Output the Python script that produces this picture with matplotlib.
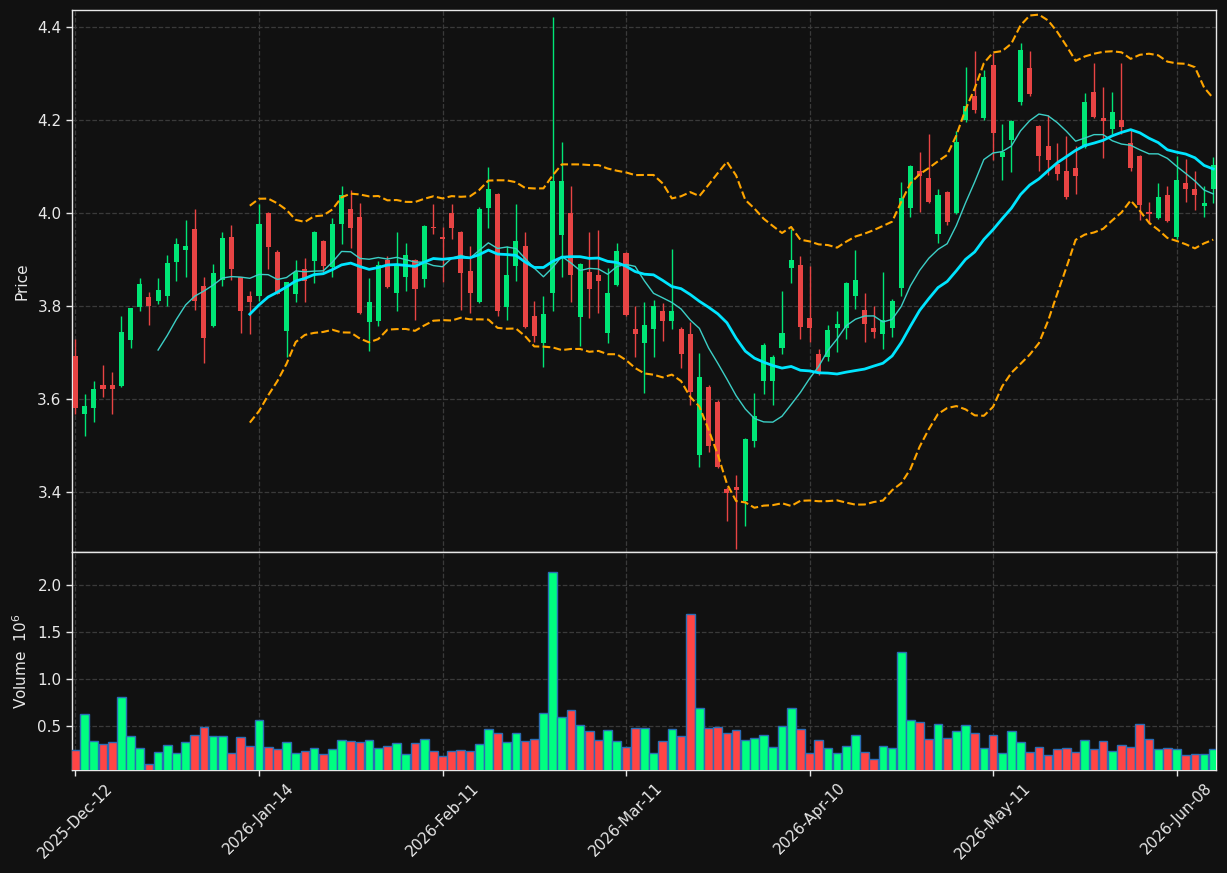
import numpy as np
import pandas as pd
import matplotlib
matplotlib.use("Agg")
import matplotlib.pyplot as plt
from matplotlib.ticker import FixedLocator, MultipleLocator

# ---------------- data ----------------
tick_labels = ['2025-Dec-12', '2026-Jan-14', '2026-Feb-11', '2026-Mar-11',
               '2026-Apr-10', '2026-May-11', '2026-Jun-08']

opens = [3.693, 3.568, 3.580, 3.631, 3.631, 3.629, 3.728, 3.799, 3.820, 3.811,
         3.822, 3.895, 3.921, 3.966, 3.844, 3.758, 3.857, 3.949, 3.862, 3.822,
         3.822, 4.001, 3.917, 3.746, 3.827, 3.880, 3.898, 3.940, 3.885, 3.976,
         4.009, 3.992, 3.765, 3.769, 3.900, 3.829, 3.862, 3.900, 3.859, 3.971,
         3.949, 4.001, 3.960, 3.876, 3.809, 4.010, 4.042, 3.799, 3.887, 3.930,
         3.779, 3.720, 3.829, 3.952, 4.001, 3.776, 3.874, 3.867, 3.743, 3.846,
         3.914, 3.751, 3.720, 3.750, 3.790, 3.769, 3.751, 3.740, 3.479, 3.627,
         3.594, 3.406, 3.411, 3.381, 3.509, 3.638, 3.638, 3.709, 3.881, 3.889,
         3.775, 3.698, 3.691, 3.752, 3.752, 3.821, 3.792, 3.753, 3.741, 3.752,
         3.838, 4.010, 4.091, 4.076, 3.956, 4.046, 4.001, 4.201, 4.252, 4.205,
         4.319, 4.120, 4.158, 4.240, 4.313, 4.187, 4.144, 4.105, 4.090, 4.097,
         4.142, 4.261, 4.205, 4.180, 4.201, 4.151, 4.123, 4.002, 3.989, 4.040,
         3.948, 4.064, 4.051, 4.016, 4.051]

closes = [3.580, 3.586, 3.622, 3.621, 3.621, 3.745, 3.796, 3.848, 3.801, 3.835,
          3.893, 3.934, 3.930, 3.811, 3.732, 3.872, 3.947, 3.880, 3.790, 3.809,
          3.977, 3.928, 3.827, 3.852, 3.874, 3.855, 3.960, 3.887, 3.977, 4.039,
          3.969, 3.786, 3.809, 3.889, 3.842, 3.891, 3.910, 3.836, 3.973, 3.967,
          3.944, 3.969, 3.872, 3.829, 4.009, 4.052, 3.789, 3.867, 3.941, 3.754,
          3.735, 3.783, 4.070, 4.070, 3.866, 3.890, 3.836, 3.853, 3.829, 3.919,
          3.781, 3.740, 3.760, 3.801, 3.769, 3.790, 3.696, 3.616, 3.648, 3.498,
          3.453, 3.397, 3.405, 3.515, 3.564, 3.717, 3.691, 3.743, 3.900, 3.756,
          3.752, 3.659, 3.748, 3.762, 3.849, 3.857, 3.761, 3.745, 3.770, 3.811,
          4.032, 4.102, 4.079, 4.023, 4.039, 3.980, 4.153, 4.231, 4.221, 4.293,
          4.173, 4.132, 4.199, 4.350, 4.257, 4.123, 4.115, 4.084, 4.035, 4.080,
          4.240, 4.206, 4.199, 4.218, 4.186, 4.097, 4.017, 3.998, 4.034, 3.983,
          4.071, 4.051, 4.038, 4.022, 4.103]

highs = [3.729, 3.611, 3.639, 3.674, 3.659, 3.778, 3.796, 3.861, 3.830, 3.861,
         3.910, 3.946, 3.985, 4.009, 3.862, 3.891, 3.960, 3.975, 3.862, 3.833,
         4.019, 4.003, 3.920, 3.852, 3.899, 3.903, 3.962, 3.942, 3.990, 4.059,
         4.050, 4.022, 3.861, 3.897, 3.908, 3.959, 3.935, 3.902, 3.975, 4.019,
         3.971, 4.019, 3.962, 3.929, 4.014, 4.099, 4.044, 3.930, 4.019, 3.960,
         3.811, 3.822, 4.422, 4.153, 4.058, 3.892, 3.960, 3.964, 3.881, 3.935,
         3.916, 3.800, 3.809, 3.813, 3.806, 3.923, 3.756, 3.766, 3.700, 3.631,
         3.599, 3.410, 3.437, 3.517, 3.613, 3.721, 3.695, 3.833, 3.966, 3.908,
         3.887, 3.708, 3.760, 3.789, 3.851, 3.920, 3.829, 3.801, 3.873, 3.815,
         4.066, 4.104, 4.131, 4.170, 4.052, 4.048, 4.176, 4.314, 4.348, 4.307,
         4.344, 4.191, 4.201, 4.365, 4.349, 4.190, 4.212, 4.150, 4.165, 4.145,
         4.258, 4.322, 4.271, 4.261, 4.322, 4.182, 4.125, 4.025, 4.064, 4.059,
         4.123, 4.116, 4.090, 4.059, 4.120]

lows = [3.568, 3.520, 3.550, 3.604, 3.568, 3.627, 3.710, 3.789, 3.759, 3.805,
        3.800, 3.854, 3.862, 3.791, 3.677, 3.754, 3.844, 3.857, 3.743, 3.741,
        3.810, 3.880, 3.825, 3.690, 3.808, 3.808, 3.849, 3.873, 3.862, 3.933,
        3.925, 3.784, 3.703, 3.758, 3.840, 3.789, 3.833, 3.771, 3.842, 3.955,
        3.851, 3.944, 3.792, 3.786, 3.807, 3.968, 3.778, 3.770, 3.853, 3.752,
        3.722, 3.668, 3.790, 3.863, 3.808, 3.715, 3.775, 3.786, 3.720, 3.844,
        3.779, 3.690, 3.613, 3.690, 3.725, 3.750, 3.667, 3.587, 3.454, 3.486,
        3.451, 3.338, 3.277, 3.328, 3.496, 3.611, 3.587, 3.697, 3.849, 3.730,
        3.723, 3.652, 3.682, 3.701, 3.729, 3.794, 3.723, 3.731, 3.708, 3.733,
        3.821, 3.991, 4.003, 4.021, 3.935, 3.974, 3.999, 4.196, 4.215, 4.201,
        4.115, 4.071, 4.088, 4.232, 4.253, 4.090, 4.081, 4.072, 4.031, 4.042,
        4.140, 4.204, 4.119, 4.170, 4.170, 4.090, 3.986, 3.977, 3.987, 3.981,
        3.944, 4.025, 4.007, 3.991, 4.022]

volume_m = [0.24, 0.625, 0.336, 0.30, 0.325, 0.80, 0.39, 0.26, 0.09, 0.22,
            0.29, 0.21, 0.325, 0.40, 0.486, 0.39, 0.39, 0.21, 0.38, 0.28,
            0.56, 0.27, 0.25, 0.325, 0.21, 0.23, 0.26, 0.20, 0.25, 0.35,
            0.336, 0.325, 0.35, 0.26, 0.28, 0.31, 0.20, 0.31, 0.36, 0.23,
            0.175, 0.23, 0.24, 0.23, 0.30, 0.46, 0.42, 0.325, 0.42, 0.336,
            0.36, 0.636, 2.135, 0.593, 0.668, 0.507, 0.443, 0.346, 0.454, 0.336,
            0.27, 0.475, 0.475, 0.207, 0.336, 0.464, 0.39, 1.686, 0.689, 0.475,
            0.486, 0.42, 0.454, 0.346, 0.368, 0.40, 0.27, 0.496, 0.689, 0.464,
            0.207, 0.346, 0.26, 0.207, 0.28, 0.40, 0.218, 0.143, 0.28, 0.26,
            1.279, 0.56, 0.54, 0.357, 0.518, 0.368, 0.443, 0.507, 0.42, 0.26,
            0.40, 0.207, 0.443, 0.325, 0.218, 0.27, 0.186, 0.25, 0.26, 0.218,
            0.346, 0.25, 0.336, 0.228, 0.293, 0.27, 0.518, 0.357, 0.25, 0.26,
            0.25, 0.186, 0.196, 0.196, 0.25]

# ---------------- style ----------------
BG = '#111111'
FG = '#e8e8e8'
UP_C, DN_C = '#00e676', '#e84444'
VUP_C, VDN_C = '#00ff80', '#ff4545'
GRID_C = '#3a3a3a'

plt.rcParams['font.family'] = ['DejaVu Sans']
plt.rcParams['font.size'] = 11

o = np.array(opens); c = np.array(closes)
h = np.array(highs); l = np.array(lows)
v = np.array(volume_m)
n = len(c)
x = np.arange(n)
up = c >= o

s = pd.Series(c)
ma10 = s.rolling(10).mean()
ma20 = s.rolling(20).mean()
sd20 = s.rolling(20).std(ddof=0)
bb_up = ma20 + 2 * sd20
bb_dn = ma20 - 2 * sd20

fig = plt.figure(figsize=(12.27, 8.73), dpi=100, facecolor=BG)
W, H = 1227.0, 873.0
left, right = 72 / W, 1216 / W
ax1 = fig.add_axes([left, 1 - 552 / H, right - left, (552 - 10) / H])
ax2 = fig.add_axes([left, 1 - 770 / H, right - left, (770 - 552) / H], sharex=ax1)

for ax in (ax1, ax2):
    ax.set_facecolor(BG)
    for sp in ax.spines.values():
        sp.set_color(FG)
        sp.set_linewidth(1.0)
    ax.tick_params(colors=FG, labelcolor=FG, labelsize=11, length=4, width=1)
    ax.grid(True, color=GRID_C, linestyle='--', linewidth=0.9)
    ax.set_axisbelow(True)

# candles
cols = np.where(up, UP_C, DN_C)
ax1.vlines(x, l, h, colors=cols, linewidth=1.0, zorder=2)
body_lo = np.minimum(o, c)
body_h = np.maximum(np.abs(c - o), 0.003)
ax1.bar(x, body_h, bottom=body_lo, width=0.55, color=cols, linewidth=0, zorder=3)

# moving averages & bollinger
ax1.plot(x, ma10, color='#3ccfc6', linewidth=1.0, zorder=4)
ax1.plot(x, ma20, color='#00e5ff', linewidth=2.0, zorder=4)
ax1.plot(x, bb_up, color='#ffa500', linestyle='--', linewidth=1.5, zorder=4)
ax1.plot(x, bb_dn, color='#ffa500', linestyle='--', linewidth=1.5, zorder=4)

ax1.set_ylim(3.271, 4.437)
ax1.yaxis.set_major_locator(MultipleLocator(0.2))
ax1.set_ylabel('Price', color=FG, fontsize=11)
ax1.tick_params(axis='x', which='both', bottom=False, labelbottom=False)

# volume
vcols = np.where(up, VUP_C, VDN_C)
ax2.bar(x, v, width=0.95, color=vcols, edgecolor='#2a6db5', linewidth=1.0, zorder=3)
ax2.set_ylim(0.3 * v.min(), 1.1 * v.max())
ax2.yaxis.set_major_locator(MultipleLocator(0.5))
ax2.set_ylabel('Volume  $10^{6}$', color=FG, fontsize=11)

tick_pos = np.arange(0, n, 20)[:len(tick_labels)]
ax2.xaxis.set_major_locator(FixedLocator(tick_pos))
ax2.set_xticklabels(tick_labels, rotation=45, ha='center', color=FG, fontsize=11)
ax1.set_xlim(-0.38, n - 0.7)

ax1.yaxis.set_label_coords(-0.037, 0.5)
ax2.yaxis.set_label_coords(-0.037, 0.5)

fig.savefig('out.png', dpi=100, facecolor=BG)
